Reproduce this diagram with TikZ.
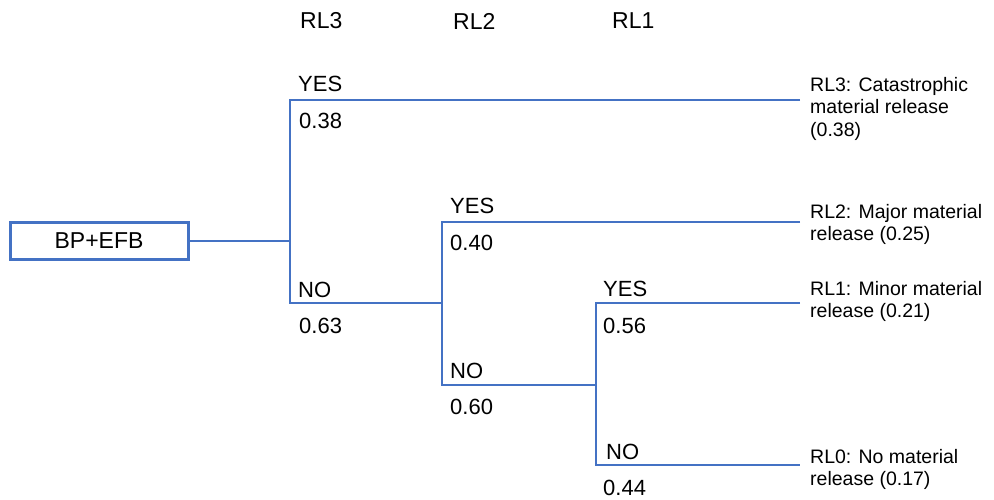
\documentclass[tikz,border=0pt]{standalone}
\usepackage{fontspec}
\setmainfont{Liberation Sans}
\definecolor{lblue}{HTML}{4472C4}
\begin{document}
\begin{tikzpicture}[x=1pt,y=-1pt,
  line/.style={draw=lblue, line width=2.6pt},
  rootbox/.style={draw=lblue, line width=3pt, minimum width=178pt, minimum height=37pt, inner sep=0pt, font=\fontsize{23}{26}\selectfont},
  lab/.style={anchor=west, inner sep=0pt, font=\fontsize{22}{25}\selectfont},
  head/.style={anchor=west, inner sep=0pt, font=\fontsize{23}{26}\selectfont},
  outcome/.style={anchor=west, inner sep=0pt, align=left, font=\fontsize{19.5}{22.5}\selectfont}]
\useasboundingbox (0,0) rectangle (994,499);
% headers
\node[head] (h3) at (300,21) {RL3};
\node[head] (h2) at (453,21) {RL2};
\node[head] (h1) at (612,21) {RL1};
% root
\node[rootbox] (root) at (99,241) {BP+EFB};
% junctions and ends
\coordinate (j1) at (290,241);
\coordinate (a1) at (290,100);
\coordinate (b1) at (290,303);
\coordinate (j2) at (442,303);
\coordinate (a2) at (442,222);
\coordinate (b2) at (442,385);
\coordinate (j3) at (596,385);
\coordinate (a3) at (596,303);
\coordinate (b3) at (596,465);
\coordinate (e1) at (800,100);
\coordinate (e2) at (800,222);
\coordinate (e3) at (800,303);
\coordinate (e4) at (800,465);
% connectors
\draw[line] (root.east) -- (j1);
\draw[line] (e1) -- (a1) -- (b1) -- (j2);
\draw[line] (e2) -- (a2) -- (b2) -- (j3);
\draw[line] (e3) -- (a3) -- (b3) -- (e4);
% branch labels
\node[lab] (y1) at (298,84) {YES};
\node[lab] (p1) at (299,121) {0.38};
\node[lab] (n1) at (298,290) {NO};
\node[lab] (q1) at (299,326) {0.63};
\node[lab] (y2) at (450,206) {YES};
\node[lab] (p2) at (450,243) {0.40};
\node[lab] (n2) at (450,371) {NO};
\node[lab] (q2) at (450,407) {0.60};
\node[lab] (y3) at (603,289) {YES};
\node[lab] (p3) at (603,326) {0.56};
\node[lab] (n3) at (606,452) {NO};
\node[lab] (q3) at (603,488) {0.44};
% outcomes
\node[outcome] (o3) at (810,108.5) {RL3: Catastrophic\\material release\\(0.38)};
\node[outcome] (o2) at (810,224.5) {RL2: Major material\\release (0.25)};
\node[outcome] (o1) at (810,301.5) {RL1: Minor material\\release (0.21)};
\node[outcome] (o0) at (810,469.5) {RL0: No material\\release (0.17)};
\end{tikzpicture}
\end{document}
